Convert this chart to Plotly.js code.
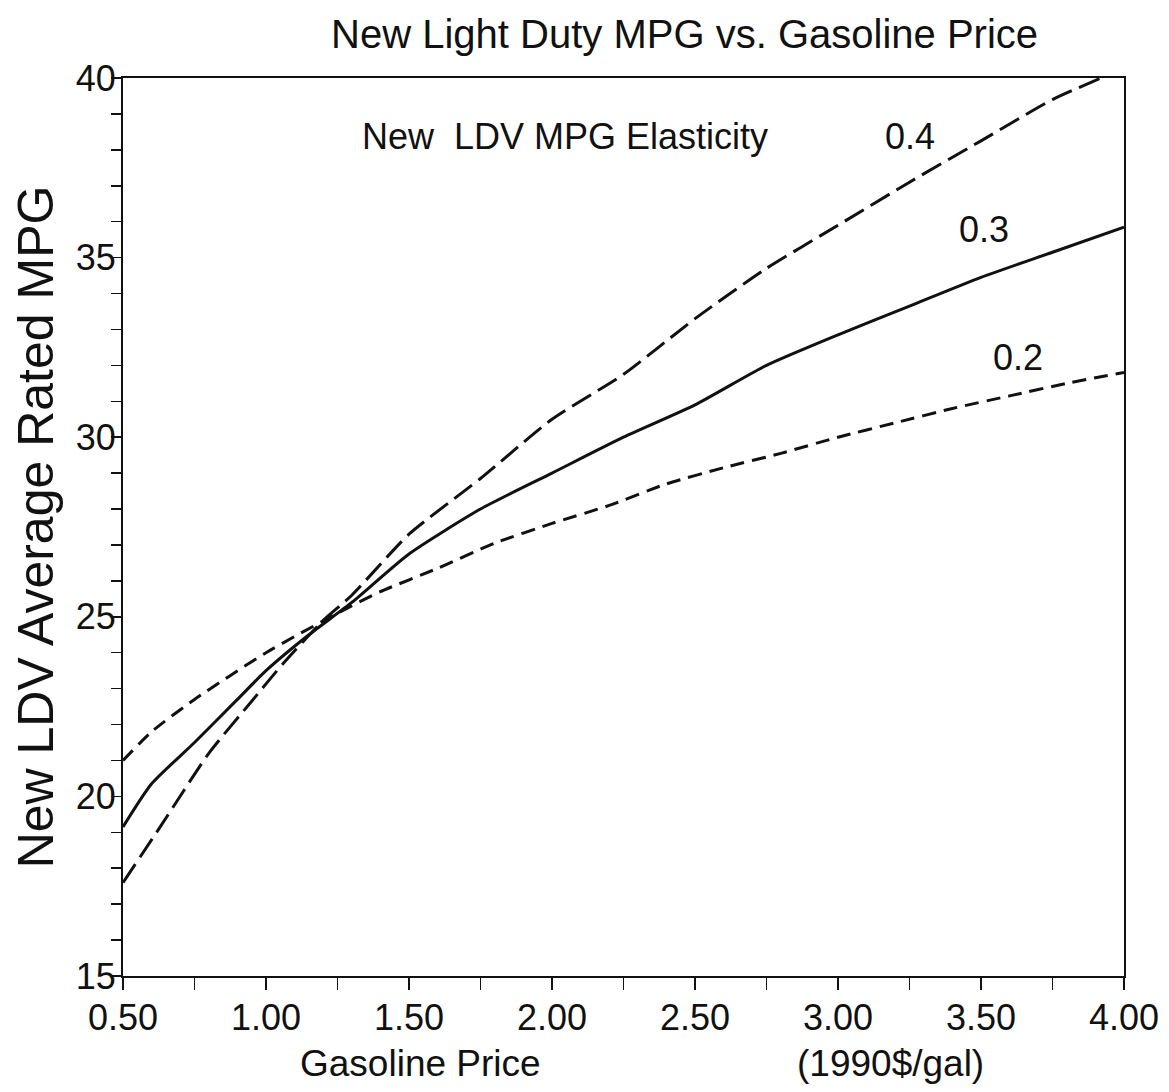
<!DOCTYPE html>
<html>
<head>
<meta charset="utf-8">
<script src="https://cdn.plot.ly/plotly-3.0.1.min.js"></script>
<style>html,body{margin:0;padding:0;background:#fff;}#chart{width:1169px;height:1092px;}</style>
</head>
<body>
<div id="chart"></div>
<script>
// Elasticity 0.2 (short dash)
const price02 = [0.50, 0.60, 0.75, 1.00, 1.25, 1.40, 1.60, 1.80, 2.00, 2.20, 2.40, 2.60, 2.80, 3.00, 3.20, 3.40, 3.60, 3.80, 4.00];
const mpg02   = [21.0, 21.8, 22.7, 24.0, 25.1, 25.7, 26.35, 27.05, 27.6, 28.1, 28.7, 29.15, 29.55, 30.0, 30.4, 30.8, 31.15, 31.5, 31.8];
// Elasticity 0.3 (solid)
const price03 = [0.50, 0.60, 0.75, 0.90, 1.00, 1.15, 1.30, 1.50, 1.75, 2.00, 2.25, 2.50, 2.75, 3.00, 3.25, 3.50, 3.75, 4.00];
const mpg03   = [19.15, 20.35, 21.5, 22.7, 23.5, 24.5, 25.4, 26.75, 28.0, 29.0, 30.0, 30.9, 32.0, 32.85, 33.65, 34.45, 35.15, 35.85];
// Elasticity 0.4 (long dash)
const price04 = [0.50, 0.63, 0.80, 0.95, 1.06, 1.20, 1.30, 1.50, 1.75, 2.00, 2.25, 2.50, 2.75, 3.00, 3.25, 3.50, 3.75, 3.92];
const mpg04   = [17.6, 19.15, 21.2, 22.65, 23.7, 24.9, 25.6, 27.3, 28.85, 30.5, 31.75, 33.3, 34.7, 35.9, 37.1, 38.25, 39.4, 40.0];

const xTickVals = [0.5, 1.0, 1.5, 2.0, 2.5, 3.0, 3.5, 4.0];
const xTickText = ["0.50", "1.00", "1.50", "2.00", "2.50", "3.00", "3.50", "4.00"];
const yTickVals = [15, 20, 25, 30, 35, 40];
const yTickText = ["15", "20", "25", "30", "35", "40"];

const labelText = ["New  LDV MPG Elasticity", "0.4", "0.3", "0.2"];
const labelX = [2.045, 3.25, 3.51, 3.63];
const labelY = [38.36, 38.36, 35.77, 32.23];

const FONT = "Liberation Sans, Arial, sans-serif";

const traces = [
  {x: price02, y: mpg02, mode: "lines", line: {color: "#111", width: 3, dash: "14px,8px", shape: "spline", smoothing: 0.6}, showlegend: false},
  {x: price03, y: mpg03, mode: "lines", line: {color: "#111", width: 3, shape: "spline", smoothing: 0.6}, showlegend: false},
  {x: price04, y: mpg04, mode: "lines", line: {color: "#111", width: 3, dash: "22px,8px", shape: "spline", smoothing: 0.6}, showlegend: false}
];

const annotations = labelText.map((t, i) => ({
  x: labelX[i], y: labelY[i], xref: "x", yref: "y", text: t, showarrow: false,
  font: {family: FONT, size: 36, color: "#111"}, xanchor: "center", yanchor: "middle"
}));
annotations.push({xref: "paper", yref: "paper", x: (420 - 123) / 1001, y: -(1063 - 976) / 898, text: "Gasoline Price", showarrow: false, xanchor: "center", yanchor: "middle", font: {family: FONT, size: 37, color: "#111"}});
annotations.push({xref: "paper", yref: "paper", x: (890 - 123) / 1001, y: -(1063 - 976) / 898, text: "(1990$/gal)", showarrow: false, xanchor: "center", yanchor: "middle", font: {family: FONT, size: 37, color: "#111"}});

const layout = {
  width: 1169, height: 1092,
  margin: {l: 123, r: 45, t: 78, b: 116},
  paper_bgcolor: "#fff", plot_bgcolor: "#fff",
  title: {text: "New Light Duty MPG vs. Gasoline Price", x: 0.561, xref: "paper", xanchor: "center", y: 0.969, yanchor: "middle", font: {family: FONT, size: 40, color: "#111"}},
  xaxis: {
    range: [0.5, 4.0], tickvals: xTickVals, ticktext: xTickText,
    ticks: "outside", ticklen: 12, tickwidth: 1.5, tickcolor: "#111",
    minor: {dtick: 0.25, tick0: 0.5, ticks: "outside", ticklen: 12, tickwidth: 1.5, tickcolor: "#111", showgrid: false},
    showgrid: false, zeroline: false, showline: true, linecolor: "#111", linewidth: 2, mirror: true,
    tickfont: {family: FONT, size: 36, color: "#111"}, ticklabelstandoff: -3
  },
  yaxis: {
    range: [15, 40], tickvals: yTickVals, ticktext: yTickText,
    ticks: "outside", ticklen: 10, tickwidth: 1.5, tickcolor: "#111",
    minor: {dtick: 1, tick0: 15, ticks: "outside", ticklen: 10, tickwidth: 1.5, tickcolor: "#111", showgrid: false},
    showgrid: false, zeroline: false, showline: true, linecolor: "#111", linewidth: 2, mirror: true,
    tickfont: {family: FONT, size: 36, color: "#111"}, ticklabelstandoff: -12,
    title: {text: "New LDV Average Rated MPG", font: {family: FONT, size: 50, color: "#111"}, standoff: 6}
  },
  annotations: annotations
};

Plotly.newPlot("chart", traces, layout, {displayModeBar: false, staticPlot: true});
</script>
</body>
</html>
